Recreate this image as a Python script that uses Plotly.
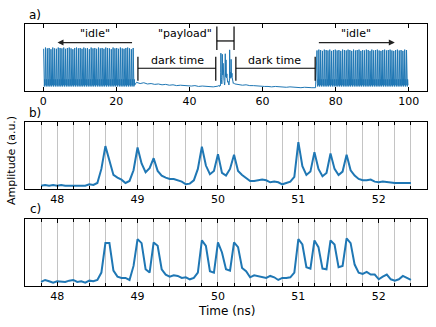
import numpy as np
import plotly.graph_objects as go

# ---------------- data ----------------
# zoomed time axis for panels b) and c), ns
t_zoom = np.round(np.arange(47.8, 52.4001, 0.05), 2)

amp_b = [0.05, 0.06, 0.05, 0.06, 0.05, 0.06, 0.05, 0.05, 0.06, 0.05,
         0.06, 0.05, 0.07, 0.06, 0.09, 0.30, 0.64, 0.42, 0.21, 0.17,
         0.14, 0.09, 0.12, 0.28, 0.62, 0.38, 0.25, 0.31, 0.46, 0.27,
         0.20, 0.17, 0.15, 0.15, 0.13, 0.11, 0.07, 0.08, 0.13, 0.30,
         0.63, 0.35, 0.22, 0.27, 0.52, 0.24, 0.20, 0.30, 0.51, 0.27,
         0.21, 0.16, 0.12, 0.12, 0.13, 0.14, 0.13, 0.10, 0.11, 0.10,
         0.07, 0.09, 0.11, 0.18, 0.70, 0.34, 0.21, 0.26, 0.55, 0.30,
         0.19, 0.24, 0.53, 0.30, 0.21, 0.26, 0.51, 0.28, 0.20, 0.15,
         0.13, 0.13, 0.14, 0.11, 0.10, 0.11, 0.10, 0.10, 0.09, 0.09,
         0.09, 0.09, 0.09]

amp_c = [0.06, 0.09, 0.07, 0.05, 0.07, 0.06, 0.06, 0.08, 0.09, 0.06,
         0.07, 0.05, 0.08, 0.07, 0.09, 0.20, 0.64, 0.64, 0.23, 0.14,
         0.12, 0.12, 0.09, 0.30, 0.70, 0.64, 0.25, 0.20, 0.65, 0.60,
         0.25, 0.17, 0.14, 0.16, 0.15, 0.12, 0.13, 0.10, 0.12, 0.20,
         0.68, 0.60, 0.22, 0.20, 0.65, 0.50, 0.25, 0.23, 0.65, 0.58,
         0.27, 0.22, 0.13, 0.16, 0.15, 0.14, 0.12, 0.15, 0.13, 0.09,
         0.12, 0.12, 0.13, 0.20, 0.70, 0.62, 0.28, 0.26, 0.68, 0.58,
         0.26, 0.25, 0.68, 0.62, 0.28, 0.30, 0.71, 0.64, 0.32, 0.20,
         0.18, 0.21, 0.17, 0.17, 0.10, 0.14, 0.17, 0.10, 0.08, 0.10,
         0.15, 0.12, 0.09]

# panel a) "idle" pulse heights, one per frame
idle1_peaks = [0.97, 1.00, 0.98, 0.99, 0.96, 1.00, 0.98, 0.97, 1.00, 0.99,
               0.98, 1.00, 0.97, 0.99, 1.00, 0.98, 0.96, 0.99, 1.00, 0.98,
               0.99, 0.97, 1.00, 0.98, 0.99, 0.96, 1.00, 0.98, 0.99, 0.97,
               1.00, 0.98, 0.99, 0.97, 1.00, 0.99, 0.98, 0.96, 1.00, 0.98,
               0.99, 0.97, 1.00, 0.98, 0.97, 0.99, 1.00, 0.98, 0.96, 0.99]
idle2_peaks = [0.93, 0.95, 0.94, 0.92, 0.95, 0.94, 0.93, 0.95, 0.92, 0.94,
               0.95, 0.93, 0.94, 0.92, 0.95, 0.94, 0.93, 0.95, 0.94, 0.92,
               0.95, 0.93, 0.94, 0.95, 0.92, 0.94, 0.93, 0.95, 0.94, 0.92,
               0.95, 0.93, 0.94, 0.95, 0.93, 0.92, 0.94, 0.95, 0.93, 0.94,
               0.95, 0.93, 0.92, 0.94, 0.95, 0.93, 0.94, 0.92, 0.95, 0.94]
idle_fill = [0.13, 0.06, 0.23, 0.09]   # low level between idle pulses

dark1_t = np.arange(25.5, 47.0, 1.0)
dark1_amp = [0.16, 0.13, 0.15, 0.12, 0.13, 0.11, 0.12, 0.10, 0.11, 0.09, 0.10,
             0.08, 0.09, 0.08, 0.08, 0.07, 0.08, 0.06, 0.07, 0.06, 0.06, 0.05]
dark2_t = np.arange(53.5, 75.0, 1.0)
dark2_amp = [0.11, 0.09, 0.10, 0.08, 0.08, 0.07, 0.07, 0.06, 0.06, 0.05, 0.06,
             0.05, 0.05, 0.04, 0.05, 0.04, 0.04, 0.03, 0.04, 0.03, 0.03, 0.03]
payload_scale = 1.35   # panel a amplitude vs zoomed panels

BLUE = "#1f77b4"
FONT = "DejaVu Sans"


def idle_section(t0, peaks):
    ts, vs = [], []
    for i, p in enumerate(peaks):
        tp = t0 + 0.5 * i
        ts.append(tp)
        vs.append(p)
        for k, f in enumerate(idle_fill):
            ts.append(tp + 0.1 * (k + 1))
            vs.append(f)
    return ts, vs


i1_t, i1_v = idle_section(0.1, idle1_peaks)
i2_t, i2_v = idle_section(74.9, idle2_peaks)
t_a = i1_t + list(dark1_t) + list(t_zoom) + list(dark2_t) + i2_t
amp_a = i1_v + dark1_amp + [v * payload_scale for v in amp_b] + dark2_amp + i2_v

# ---------------- layout helpers (pixel -> paper) ----------------
W, H = 436, 327
ML, MR, MT, MB = 25, 9, 24, 41


def px(xp):
    return (xp - ML) / (W - ML - MR)


def py(yp):
    return (H - MB - yp) / (H - MT - MB)


fig = go.Figure()
fig.add_trace(go.Scatter(x=t_a, y=amp_a, mode="lines", line=dict(color=BLUE, width=1),
                         xaxis="x", yaxis="y", hoverinfo="skip"))
fig.add_trace(go.Scatter(x=t_zoom, y=amp_b, mode="lines", line=dict(color=BLUE, width=2),
                         xaxis="x2", yaxis="y2"))
fig.add_trace(go.Scatter(x=t_zoom, y=amp_c, mode="lines", line=dict(color=BLUE, width=2),
                         xaxis="x3", yaxis="y3"))

frame = dict(showline=True, linecolor="black", linewidth=1, zeroline=False, automargin=False)
tickfont = dict(family=FONT, size=11, color="black")
zoom_x = dict(frame, range=[47.6, 52.6], tickvals=[48, 49, 50, 51, 52], ticks="inside",
              ticklen=4, tickcolor="black", mirror="ticks", tickfont=tickfont,
              showgrid=True, gridcolor="#c4c4c4", gridwidth=1,
              minor=dict(dtick=0.2, tick0=0, ticks="inside", ticklen=3, tickcolor="black",
                         showgrid=True, gridcolor="#c4c4c4", gridwidth=1))
plain_y = dict(frame, mirror=True, showticklabels=False, ticks="", showgrid=False)

fig.update_layout(
    width=W, height=H,
    margin=dict(l=ML, r=MR, t=MT, b=MB),
    paper_bgcolor="white", plot_bgcolor="white",
    showlegend=False,
    font=dict(family=FONT, size=11, color="black"),
    xaxis=dict(frame, domain=[0, 1], anchor="y", range=[-5, 105],
               tickvals=[0, 20, 40, 60, 80, 100], ticks="inside", ticklen=4,
               tickcolor="black", mirror="ticks", showgrid=False, tickfont=tickfont),
    yaxis=dict(plain_y, domain=[py(91), 1], anchor="x", range=[-0.05, 1.57]),
    xaxis2=dict(zoom_x, domain=[0, 1], anchor="y2"),
    yaxis2=dict(plain_y, domain=[py(189), py(122)], anchor="x2", range=[0, 1]),
    xaxis3=dict(zoom_x, domain=[0, 1], anchor="y3"),
    yaxis3=dict(plain_y, domain=[0, py(219)], anchor="x3", range=[0, 1]),
)

# brackets in panel a)
bracket = dict(type="line", xref="x", yref="y", line=dict(color="black", width=1.2))
shapes = []
for x0, x1, ylo, yhi, ymid in [(25.9, 47.2, 0.20, 0.78, 0.50),
                               (52.7, 74.4, 0.20, 0.78, 0.50),
                               (47.5, 52.2, 0.94, 1.51, 1.16)]:
    shapes.append(dict(bracket, x0=x0, x1=x0, y0=ylo, y1=yhi))
    shapes.append(dict(bracket, x0=x1, x1=x1, y0=ylo, y1=yhi))
    shapes.append(dict(bracket, x0=x0, x1=x1, y0=ymid, y1=ymid))
fig.update_layout(shapes=shapes)

ann = []
txt = dict(xref="x", yref="y", showarrow=False, font=dict(family=FONT, size=11, color="black"),
           xanchor="center", yanchor="middle")
ann.append(dict(txt, x=14.2, y=1.33, text='"idle"'))
ann.append(dict(txt, x=85.7, y=1.33, text='"idle"'))
ann.append(dict(txt, x=38.8, y=1.33, text='"payload"'))
ann.append(dict(txt, x=36.6, y=0.68, text="dark time"))
ann.append(dict(txt, x=63.4, y=0.68, text="dark time"))
arrow = dict(xref="x", yref="y", axref="x", ayref="y", text="", showarrow=True,
             arrowhead=2, arrowsize=1, arrowwidth=1.2, arrowcolor="#222222")
ann.append(dict(arrow, x=3.9, y=1.12, ax=24.7, ay=1.12))
ann.append(dict(arrow, x=96.2, y=1.12, ax=75.0, ay=1.12))

ptxt = dict(xref="paper", yref="paper", showarrow=False,
            font=dict(family=FONT, size=12, color="black"), xanchor="center", yanchor="middle")
ann.append(dict(ptxt, x=px(35), y=py(15), text="a)"))
ann.append(dict(ptxt, x=px(35), y=py(113), text="b)"))
ann.append(dict(ptxt, x=px(35), y=py(209), text="c)"))
ann.append(dict(ptxt, x=px(12), y=py(161), text="Amplitude (a.u.)", textangle=-90,
                font=dict(family=FONT, size=11, color="black")))
ann.append(dict(ptxt, x=px(226), y=py(311), text="Time (ns)",
                font=dict(family=FONT, size=12, color="black")))
fig.update_layout(annotations=ann)

fig.write_html("out.html", config={"displayModeBar": False},
               post_script="document.body.style.margin='0';")
